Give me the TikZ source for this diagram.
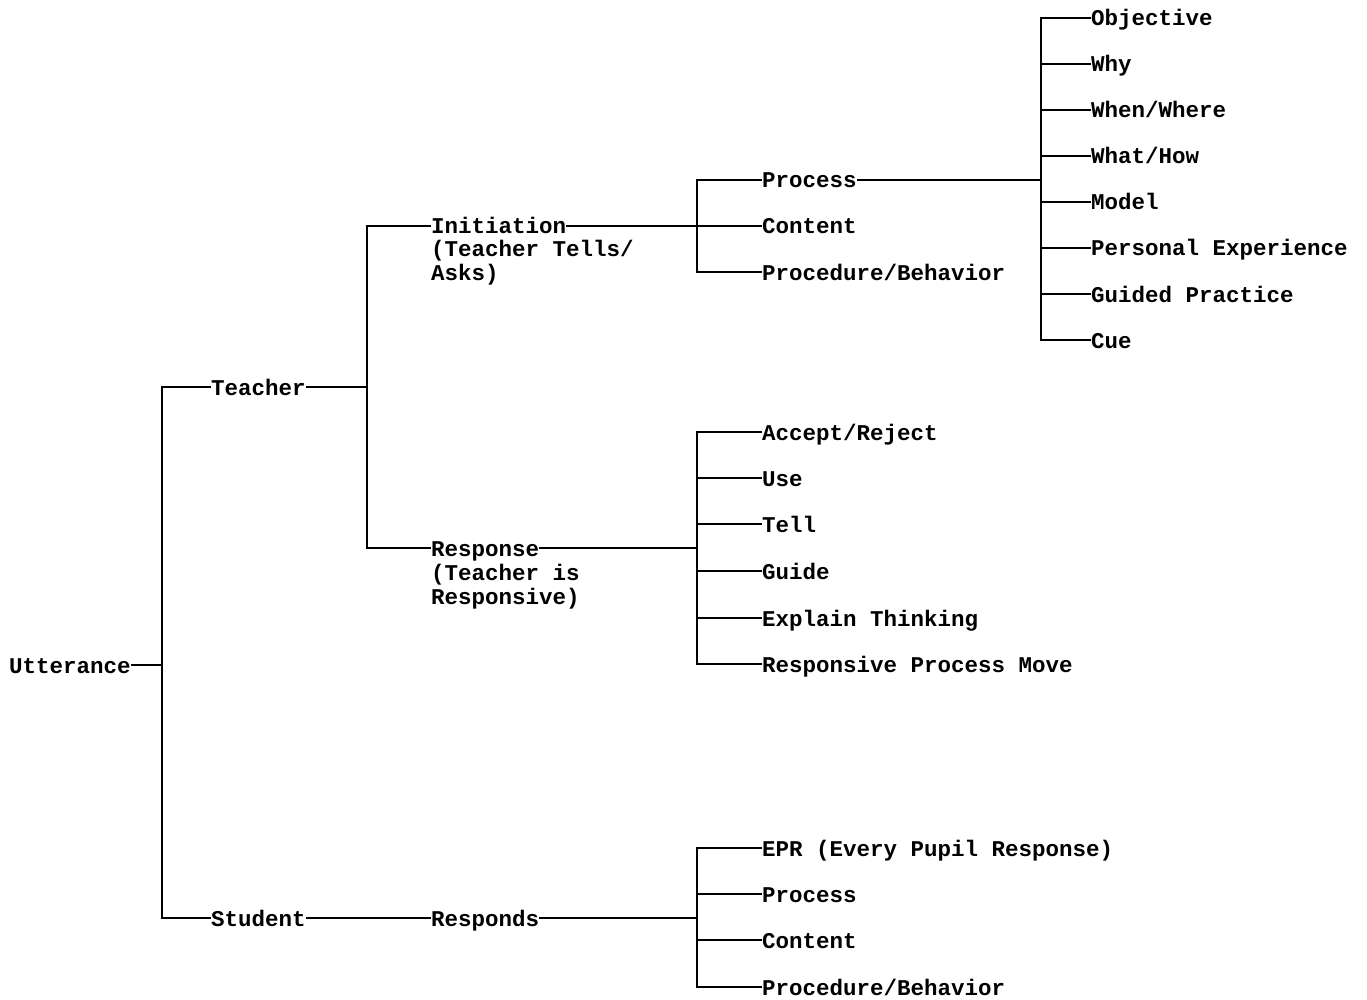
\documentclass[tikz,border=0pt]{standalone}
\usepackage{fontspec}
\newfontfamily\twfont{Liberation Mono}
\begin{document}
\begin{tikzpicture}[x=1pt,y=-1pt,
  lbl/.style={anchor=west,inner xsep=1pt,inner ysep=0pt,text height=16pt,text depth=0pt,
    font=\twfont\bfseries\fontsize{22.5}{23}\selectfont},
  sub/.style={anchor=base west,inner xsep=1pt,inner ysep=0pt,
    font=\twfont\bfseries\fontsize{22.5}{23}\selectfont},
  conn/.style={line width=2.6pt,line cap=rect}]
\useasboundingbox (0,0) rectangle (1367,1000);
% nodes
\node[lbl] (utt) at (8,665) {Utterance};
\node[lbl] (teach) at (210,387) {Teacher};
\node[lbl] (stud) at (210,918) {Student};
\node[lbl] (init) at (430,226) {Initiation};
\node[sub] (inita) at ([yshift=-23pt]init.base west) {(Teacher Tells/};
\node[sub] (initb) at ([yshift=-23pt]inita.base west) {Asks)};
\node[lbl] (resp) at (430,548) {Response};
\node[sub] (respa) at ([yshift=-24pt]resp.base west) {(Teacher is};
\node[sub] (respb) at ([yshift=-24pt]respa.base west) {Responsive)};
\node[lbl] (respd) at (430,918) {Responds};
% initiation children
\node[lbl] (proc) at (761,180) {Process};
\node[lbl] (cont) at (761,226) {Content};
\node[lbl] (pb) at (761,272) {Procedure/Behavior};
% process children
\node[lbl] (obj) at (1090,18) {Objective};
\node[lbl] (why) at (1090,64) {Why};
\node[lbl] (ww) at (1090,110) {When/Where};
\node[lbl] (wh) at (1090,156) {What/How};
\node[lbl] (mod) at (1090,202) {Model};
\node[lbl] (pe) at (1090,248) {Personal Experience};
\node[lbl] (gp) at (1090,294) {Guided Practice};
\node[lbl] (cue) at (1090,340) {Cue};
% response children
\node[lbl] (ar) at (761,432) {Accept/Reject};
\node[lbl] (use) at (761,478) {Use};
\node[lbl] (tell) at (761,524) {Tell};
\node[lbl] (guide) at (761,571) {Guide};
\node[lbl] (et) at (761,618) {Explain Thinking};
\node[lbl] (rpm) at (761,664) {Responsive Process Move};
% responds children
\node[lbl] (epr) at (761,848) {EPR (Every Pupil Response)};
\node[lbl] (sproc) at (761,894) {Process};
\node[lbl] (scont) at (761,940) {Content};
\node[lbl] (spb) at (761,987) {Procedure/Behavior};
% branch points
\coordinate (b0) at (162,665);
\coordinate (b1) at (367,387);
\coordinate (b2) at (697,226);
\coordinate (b3) at (1041,180);
\coordinate (b4) at (697,548);
\coordinate (b5) at (697,918);
% connectors
\draw[conn] (utt.east) -- (b0);
\draw[conn] (b0) |- (teach.west);
\draw[conn] (b0) |- (stud.west);
\draw[conn] (teach.east) -- (b1);
\draw[conn] (b1) |- (init.west);
\draw[conn] (b1) |- (resp.west);
\draw[conn] (init.east) -- (b2);
\draw[conn] (resp.east) -- (b4);
\draw[conn] (stud.east) -- (respd.west);
\draw[conn] (respd.east) -- (b5);
\foreach \c in {proc,cont,pb} \draw[conn] (b2) |- (\c.west);
\draw[conn] (proc.east) -- (b3);
\foreach \c in {obj,why,ww,wh,mod,pe,gp,cue} \draw[conn] (b3) |- (\c.west);
\foreach \c in {ar,use,tell,guide,et,rpm} \draw[conn] (b4) |- (\c.west);
\foreach \c in {epr,sproc,scont,spb} \draw[conn] (b5) |- (\c.west);
\end{tikzpicture}
\end{document}
